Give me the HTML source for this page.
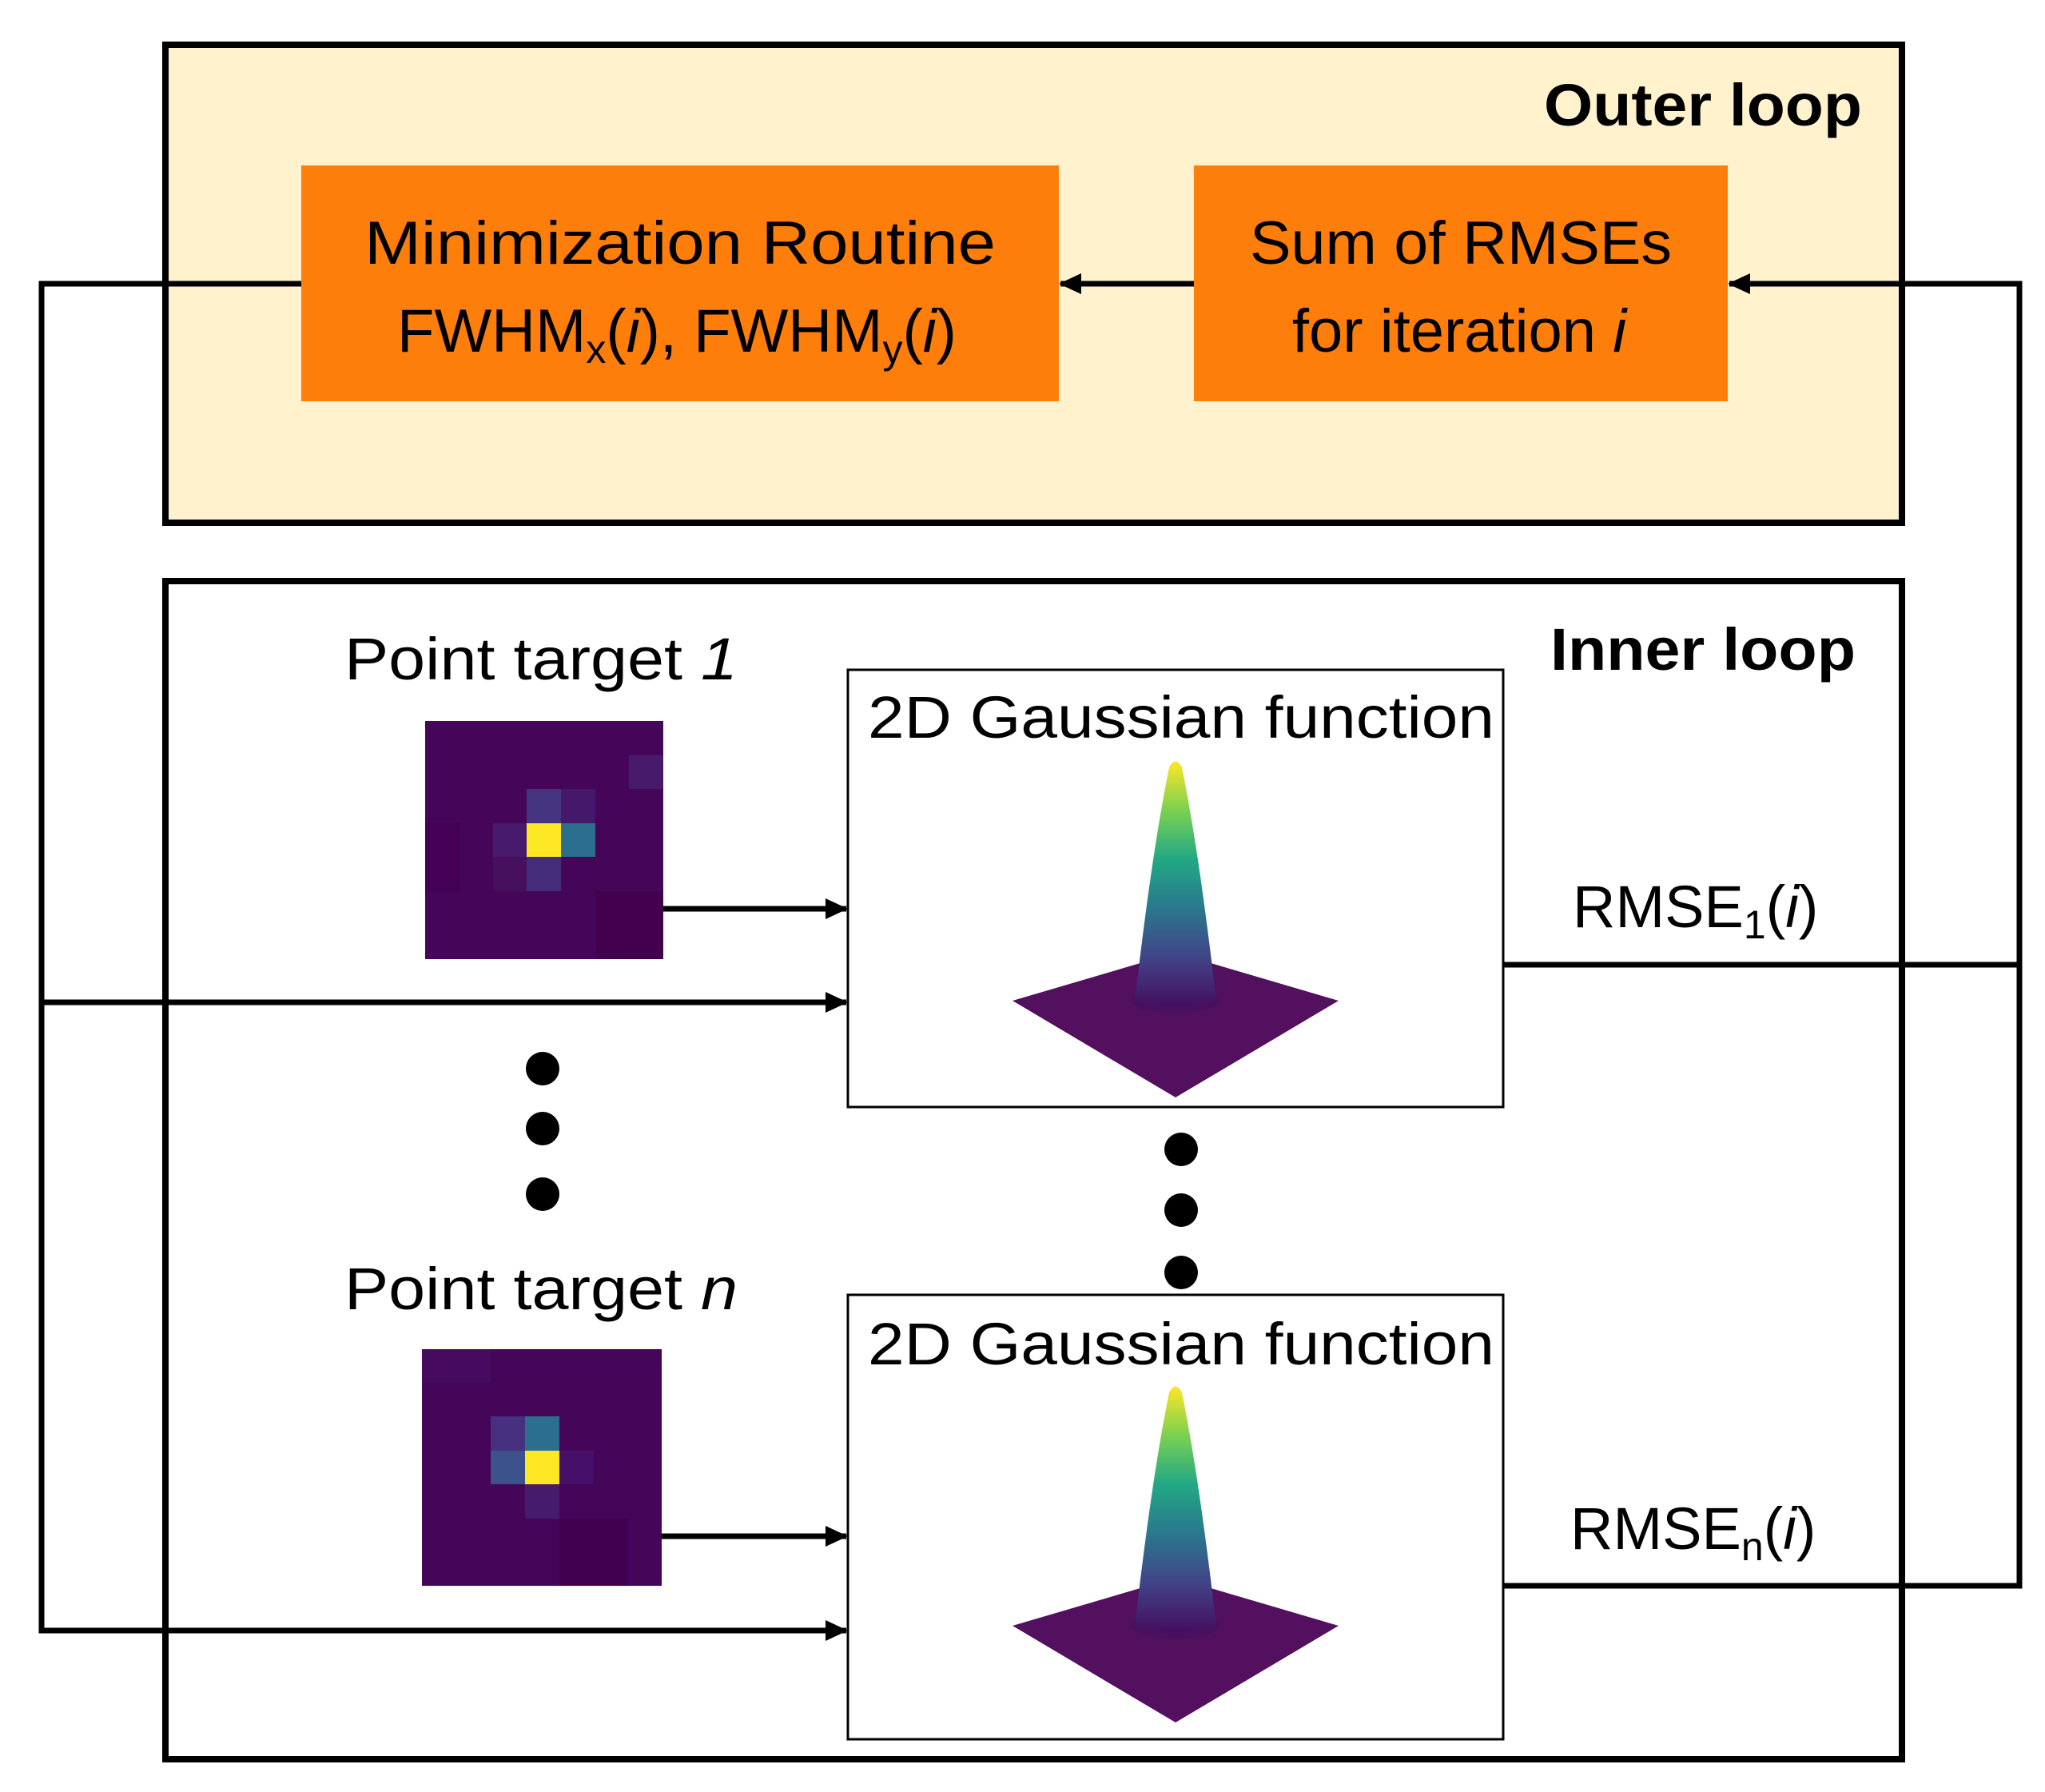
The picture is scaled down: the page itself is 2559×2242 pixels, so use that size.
<!DOCTYPE html>
<html><head><meta charset="utf-8"><style>html,body{margin:0;padding:0;background:#fff}svg{display:block}</style></head>
<body>
<svg width="2559" height="2242" viewBox="0 0 2559 2242" xmlns="http://www.w3.org/2000/svg" font-family="Liberation Sans, sans-serif">
<defs>
<linearGradient id="pk" x1="0" y1="0" x2="0" y2="1">
<stop offset="0" stop-color="#fde725"/><stop offset="0.2" stop-color="#7ad151"/><stop offset="0.4" stop-color="#22a884"/><stop offset="0.6" stop-color="#2a788e"/><stop offset="0.8" stop-color="#414487"/><stop offset="1" stop-color="#440f60"/>
</linearGradient>
<marker id="ar" markerWidth="28" markerHeight="26" refX="26" refY="13" orient="auto" markerUnits="userSpaceOnUse" viewBox="0 0 28 26"><path d="M0,0 L28,13 L0,26 z" fill="#000"/></marker>
<g id="gauss">
<path d="M1267,1252 L1471,1192 L1675,1252 L1471,1373 Z" fill="#53105e"/>
<ellipse cx="1471" cy="1252" rx="55" ry="16" fill="#48105f"/>
<path d="M1420,1252 C1432,1150 1445,1050 1463,960 Q1471,945 1479,960 C1497,1050 1510,1150 1522,1252 Q1471,1266 1420,1252 Z" fill="url(#pk)"/>
</g>
</defs>

<rect x="207" y="56" width="2173" height="598" fill="#fff2cc" stroke="#000" stroke-width="8"/>
<rect x="377" y="207" width="948" height="295" fill="#fd7e0a"/>
<rect x="1494" y="207" width="668" height="295" fill="#fd7e0a"/>
<text x="2330" y="157" font-size="74" font-weight="bold" text-anchor="end" textLength="398" lengthAdjust="spacingAndGlyphs">Outer loop</text>
<text x="851" y="330" font-size="76" text-anchor="middle" textLength="790" lengthAdjust="spacingAndGlyphs">Minimization Routine</text>
<text x="847" y="440" font-size="76" text-anchor="middle">FWHM<tspan font-size="50" dy="14">x</tspan><tspan dy="-14">(</tspan><tspan font-style="italic">i</tspan>), FWHM<tspan font-size="50" dy="14">y</tspan><tspan dy="-14">(</tspan><tspan font-style="italic">i</tspan>)</text>
<text x="1828" y="330" font-size="76" text-anchor="middle" textLength="528" lengthAdjust="spacingAndGlyphs">Sum of RMSEs</text>
<text x="1826" y="440" font-size="76" text-anchor="middle">for iteration <tspan font-style="italic">i</tspan></text>

<rect x="207" y="727" width="2173" height="1474" fill="none" stroke="#000" stroke-width="8"/>
<text x="2322" y="838" font-size="74" font-weight="bold" text-anchor="end" textLength="382" lengthAdjust="spacingAndGlyphs">Inner loop</text>

<rect x="1061" y="838" width="820" height="547" fill="#fff" stroke="#000" stroke-width="3"/>
<rect x="1061" y="1620" width="820" height="556" fill="#fff" stroke="#000" stroke-width="3"/>
<text x="1478" y="923" font-size="74" text-anchor="middle" textLength="784" lengthAdjust="spacingAndGlyphs">2D Gaussian function</text>
<text x="1478" y="1707" font-size="74" text-anchor="middle" textLength="784" lengthAdjust="spacingAndGlyphs">2D Gaussian function</text>
<use href="#gauss"/>
<use href="#gauss" transform="translate(0,782)"/>

<text x="431" y="850" font-size="74" textLength="492" lengthAdjust="spacingAndGlyphs">Point target <tspan font-style="italic">1</tspan></text>
<text x="431" y="1638" font-size="74" textLength="492" lengthAdjust="spacingAndGlyphs">Point target <tspan font-style="italic">n</tspan></text>

<g transform="translate(532,902)">
<rect width="298" height="298" fill="#450559"/>
<rect x="127" y="85" width="43" height="43" fill="#453581"/>
<rect x="170" y="85" width="43" height="43" fill="#46186b"/>
<rect x="85" y="128" width="42" height="42" fill="#471a6d"/>
<rect x="127" y="128" width="43" height="42" fill="#fde725"/>
<rect x="170" y="128" width="43" height="42" fill="#2c6e8e"/>
<rect x="127" y="170" width="43" height="43" fill="#462d7c"/>
<rect x="85" y="170" width="42" height="43" fill="#46105f"/>
<rect x="255" y="43" width="43" height="42" fill="#481a6b"/>
<rect x="0" y="128" width="43" height="85" fill="#430054"/>
<rect x="213" y="213" width="85" height="85" fill="#43004f"/>
</g>
<g transform="translate(528,1688)">
<rect width="300" height="296" fill="#450559"/>
<rect x="86" y="84" width="43" height="43" fill="#46307f"/>
<rect x="129" y="84" width="43" height="43" fill="#2c6e8e"/>
<rect x="86" y="127" width="43" height="42" fill="#3b528b"/>
<rect x="129" y="127" width="43" height="42" fill="#fde725"/>
<rect x="172" y="127" width="43" height="42" fill="#46106a"/>
<rect x="129" y="169" width="43" height="43" fill="#461a6c"/>
<rect x="0" y="0" width="86" height="42" fill="#460a5e"/>
<rect x="172" y="212" width="86" height="84" fill="#420050"/>
</g>

<g fill="#000">
<circle cx="679" cy="1337" r="21"/><circle cx="679" cy="1412" r="21"/><circle cx="679" cy="1494" r="21"/>
<circle cx="1478" cy="1438" r="21"/><circle cx="1478" cy="1514" r="21"/><circle cx="1478" cy="1592" r="21"/>
</g>

<g stroke="#000" stroke-width="7" fill="none">
<polyline points="377,355 52,355 52,2040 1059,2040" marker-end="url(#ar)"/>
<line x1="52" y1="1254" x2="1059" y2="1254" marker-end="url(#ar)"/>
<line x1="830" y1="1137" x2="1059" y2="1137" marker-end="url(#ar)"/>
<line x1="828" y1="1922" x2="1059" y2="1922" marker-end="url(#ar)"/>
<line x1="1494" y1="355" x2="1327" y2="355" marker-end="url(#ar)"/>
<polyline points="1881,1207 2527,1207"/>
<polyline points="1881,1984 2527,1984 2527,355 2164,355" marker-end="url(#ar)"/>
</g>

<text x="1968" y="1160" font-size="74">RMSE<tspan font-size="50" dy="14">1</tspan><tspan dy="-14">(</tspan><tspan font-style="italic">i</tspan>)</text>
<text x="1965" y="1938" font-size="74">RMSE<tspan font-size="50" dy="14">n</tspan><tspan dy="-14">(</tspan><tspan font-style="italic">i</tspan>)</text>
</svg>
</body></html>
